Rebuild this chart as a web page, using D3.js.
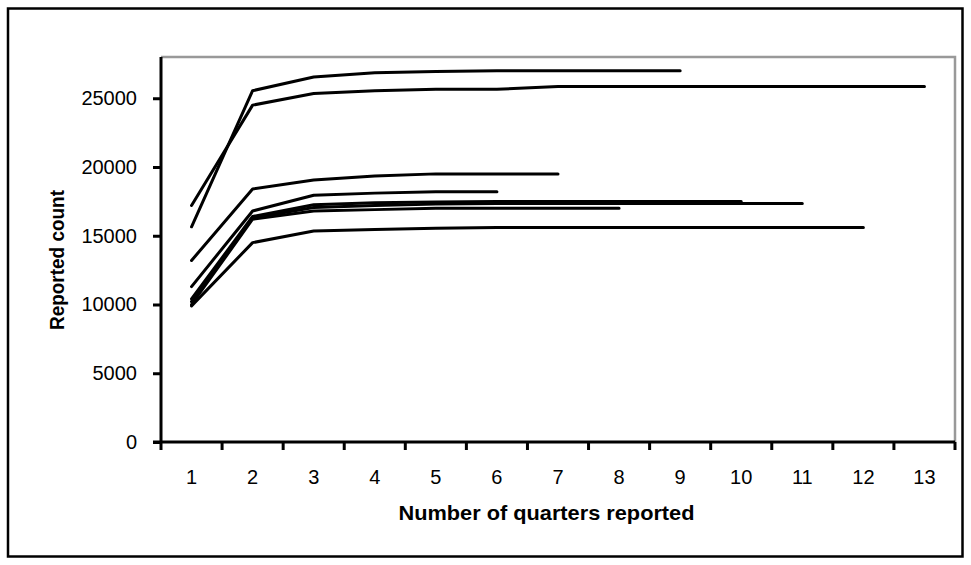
<!DOCTYPE html>
<html>
<head>
<meta charset="utf-8">
<script src="https://cdn.jsdelivr.net/npm/d3@7"></script>
<style>
  html, body { margin: 0; padding: 0; background: #fff; }
  svg { display: block; font-family: Arial, "Liberation Sans", sans-serif; }
</style>
</head>
<body>
<svg id="chart" width="971" height="565"></svg>
<script>
// Quarters reported (category axis)
const quarters = ["1","2","3","4","5","6","7","8","9","10","11","12","13"];

// Cumulative reported counts, one cohort per array (cohorts have different lengths)
const cohortA = [15650, 25550, 26550, 26850, 26950, 27000, 27000, 27000, 27000];
const cohortB = [17200, 24500, 25350, 25550, 25650, 25650, 25850, 25850, 25850, 25850, 25850, 25850, 25850];
const cohortC = [13200, 18400, 19050, 19350, 19500, 19500, 19500];
const cohortD = [11300, 16800, 17950, 18100, 18200, 18200];
const cohortE = [10400, 16400, 17250, 17400, 17450, 17500, 17500, 17500, 17500, 17500];
const cohortF = [10200, 16300, 17050, 17200, 17300, 17350, 17350, 17350, 17350, 17350, 17350];
const cohortG = [10000, 16200, 16800, 16900, 17000, 17000, 17000, 17000];
const cohortH = [9900, 14500, 15350, 15450, 15550, 15600, 15600, 15600, 15600, 15600, 15600, 15600];

const yTicks = [0, 5000, 10000, 15000, 20000, 25000];
const yMax = 28000;

const cohorts = [cohortA, cohortB, cohortC, cohortD, cohortE, cohortF, cohortG, cohortH];

const svg = d3.select("#chart");
const W = 971, H = 565;
const plot = { left: 161, right: 955, top: 57, bottom: 442 };

// Outer chart frame
svg.append("rect")
  .attr("x", 8).attr("y", 8.5)
  .attr("width", W - 16.5).attr("height", H - 17)
  .attr("fill", "#fff").attr("stroke", "#000").attr("stroke-width", 2.5);

const x = d3.scaleBand().domain(quarters).range([plot.left, plot.right]).padding(0);
const y = d3.scaleLinear().domain([0, yMax]).range([plot.bottom, plot.top]);

// Plot-area border (top and right in grey)
svg.append("path")
  .attr("d", `M${plot.left},${plot.top}H${plot.right}V${plot.bottom}`)
  .attr("fill", "none").attr("stroke", "#999").attr("stroke-width", 2.5);

// Data lines
const line = d3.line()
  .x((d, i) => x(quarters[i]) + x.bandwidth() / 2)
  .y(d => y(d));

svg.append("g").selectAll("path")
  .data(cohorts)
  .join("path")
  .attr("d", line)
  .attr("fill", "none")
  .attr("stroke", "#000")
  .attr("stroke-width", 3)
  .attr("stroke-linejoin", "round")
  .attr("stroke-linecap", "round");

// Y axis
const yAxis = svg.append("g")
  .attr("transform", `translate(${plot.left},0)`)
  .call(d3.axisLeft(y).tickValues(yTicks).tickSize(8).tickPadding(16).tickFormat(d3.format("d")));
yAxis.select(".domain").attr("stroke", "#000").attr("stroke-width", 3)
  .attr("d", `M0,${plot.top}V${plot.bottom}`);
yAxis.selectAll(".tick line").attr("stroke", "#000").attr("stroke-width", 3);
yAxis.selectAll(".tick text").attr("font-size", 20).attr("fill", "#000")
  .attr("font-family", "Arial, 'Liberation Sans', sans-serif");

// X axis: ticks sit between categories
const xAxis = svg.append("g")
  .attr("transform", `translate(0,${plot.bottom})`)
  .call(d3.axisBottom(x).tickSize(0).tickPadding(28));
xAxis.select(".domain").attr("stroke", "#000").attr("stroke-width", 3)
  .attr("d", `M${plot.left - 8},0H${plot.right}`);
xAxis.selectAll(".tick text").attr("font-size", 20).attr("fill", "#000")
  .attr("font-family", "Arial, 'Liberation Sans', sans-serif");

const bounds = quarters.map(q => x(q)).concat([plot.right]);
svg.append("g").selectAll("line")
  .data(bounds)
  .join("line")
  .attr("x1", d => d).attr("x2", d => d)
  .attr("y1", plot.bottom).attr("y2", plot.bottom + 8)
  .attr("stroke", "#000").attr("stroke-width", 3);

// Axis titles
svg.append("text")
  .attr("x", 546.5).attr("y", 520)
  .attr("text-anchor", "middle")
  .attr("font-size", 21).attr("font-weight", "bold")
  .attr("textLength", 296).attr("lengthAdjust", "spacingAndGlyphs")
  .text("Number of quarters reported");

svg.append("text")
  .attr("transform", `translate(64,260) rotate(-90)`)
  .attr("text-anchor", "middle")
  .attr("font-size", 21).attr("font-weight", "bold")
  .attr("textLength", 140).attr("lengthAdjust", "spacingAndGlyphs")
  .text("Reported count");
</script>
</body>
</html>
